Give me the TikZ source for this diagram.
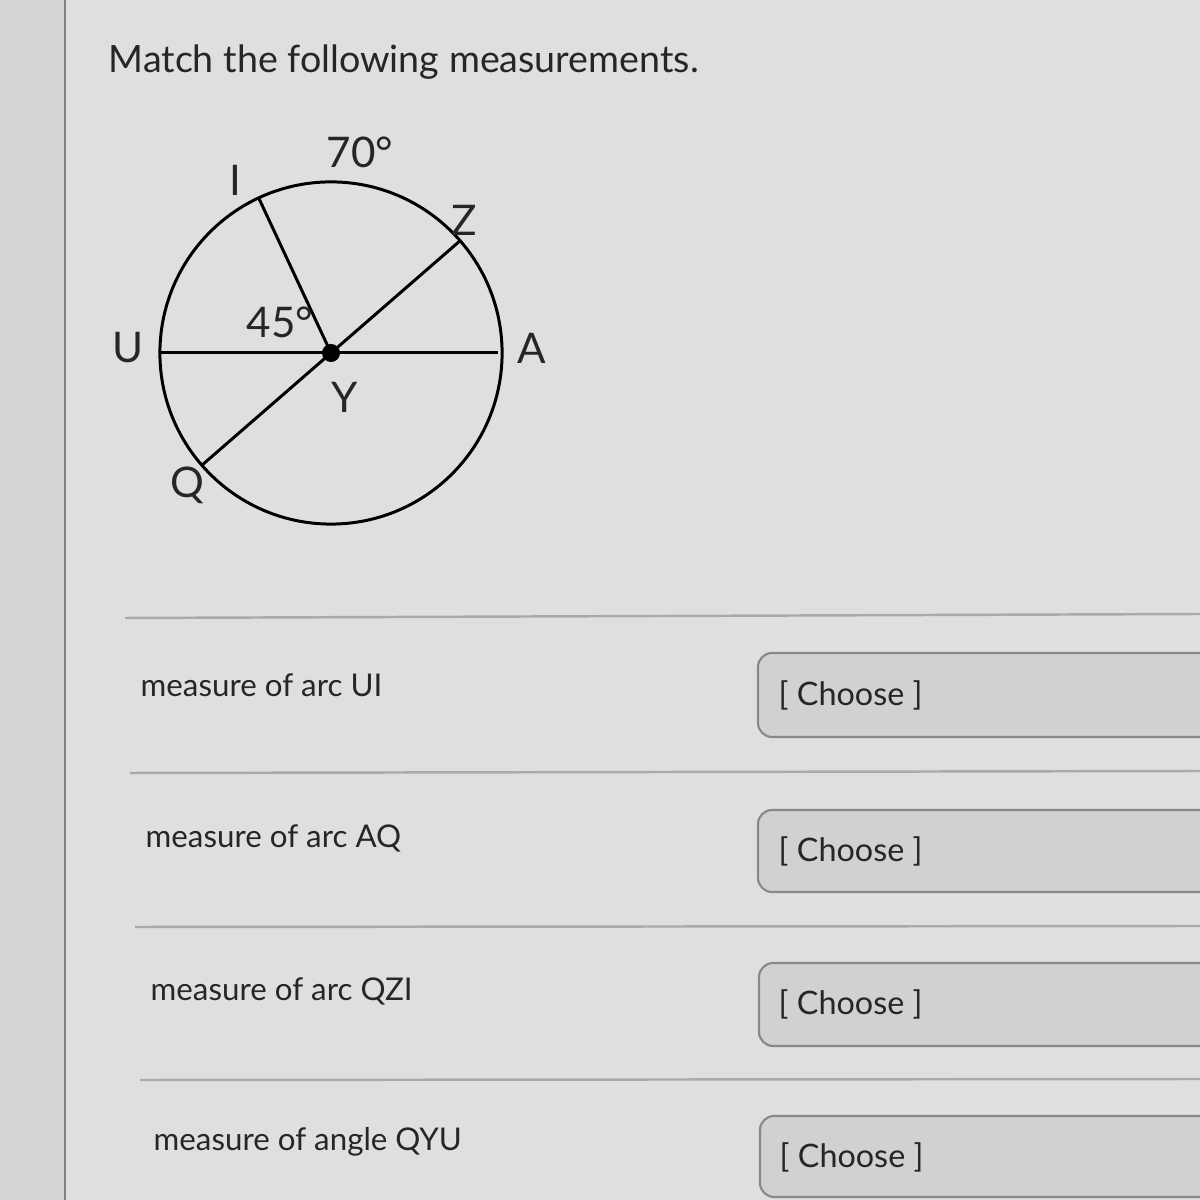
\documentclass[tikz,border=0pt]{standalone}
\usepackage{fontspec}
\setmainfont{Lato}
\definecolor{pagebg}{RGB}{223,224,221}
\definecolor{sidebg}{RGB}{212,213,210}
\definecolor{boxbg}{RGB}{209,210,207}
\definecolor{rulegray}{RGB}{170,171,168}
\definecolor{ink}{RGB}{38,38,38}
\tikzset{
  lbl/.style={text=ink,font=\fontsize{12}{14}\selectfont,inner sep=0pt},
  rowtxt/.style={text=ink,font=\fontsize{8.9}{11}\selectfont,anchor=west,inner sep=0pt},
  choosetxt/.style={text=ink,font=\fontsize{9.2}{11}\selectfont,anchor=west,inner sep=0pt},
  choosebox/.style={draw=rulegray!80!black,fill=boxbg,rounded corners=4pt,line width=0.6pt},
  rowline/.style={draw=rulegray,line width=0.7pt}
}
\begin{document}
\begin{tikzpicture}[x=0.01cm,y=0.01cm]
  \useasboundingbox[fill=pagebg] (0,0) rectangle (1200,1200);
  \fill[sidebg] (0,0) rectangle (65,1200);
  \draw[gray,line width=0.8pt] (65,0) -- (65,1200);

  \node[anchor=west,text=ink,font=\fontsize{10.7}{13}\selectfont,inner sep=0pt] (title) at (108,1138) {Match the following measurements.};

  \coordinate (Y) at (331,847);
  \draw[line width=0.85pt]
    (Y) circle[radius=1.71cm]
    ([shift={(Y)}]180:171) coordinate (U)
    ([shift={(Y)}]0:167) coordinate (A)
    ([shift={(Y)}]115:171) coordinate (I)
    ([shift={(Y)}]41:171) coordinate (Z)
    ([shift={(Y)}]221:171) coordinate (Q);
  \begin{scope}[line width=0.85pt]
    \draw (U) to (A);
    \draw (Y) to (I);
    \draw (Q) to (Z);
  \end{scope}
  \fill (Y) circle[radius=0.09cm];

  \node[lbl] (l70) at (360,1048) {70°};
  \node[lbl] (lI) at (235,1020) {I};
  \node[lbl] (lZ) at (464,980) {Z};
  \node[lbl] (lU) at (128,852) {U};
  \node[lbl] (lA) at (532,852) {A};
  \node[lbl] (l45) at (280,878) {45°};
  \node[lbl] (lY) at (345,803) {Y};
  \node[lbl] (lQ) at (187,715) {Q};

  \draw[rowline] (125,582) -- (1200,586);
  \draw[rowline] (130,427) -- (1200,429);
  \draw[rowline] (135,273) -- (1200,274);
  \draw[rowline] (140,120) -- (1200,121);

  \node[rowtxt] (rowUI) at (140,515) {measure of arc UI};
  \node[rowtxt] (rowAQ) at (145,362) {measure of arc AQ};
  \node[rowtxt] (rowQZI) at (150,209) {measure of arc QZI};
  \node[rowtxt] (rowQYU) at (153,58) {measure of angle QYU};

  \draw[choosebox] (758,463) rectangle (1240,547);
  \draw[choosebox] (758,308) rectangle (1240,390);
  \draw[choosebox] (759,154) rectangle (1240,237);
  \draw[choosebox] (760,3) rectangle (1240,84);

  \node[choosetxt] (pickUI) at (778,505) {[ Choose ]};
  \node[choosetxt] (pickAQ) at (778,349) {[ Choose ]};
  \node[choosetxt] (pickQZI) at (778,196) {[ Choose ]};
  \node[choosetxt] (pickQYU) at (779,43) {[ Choose ]};
\end{tikzpicture}
\end{document}
